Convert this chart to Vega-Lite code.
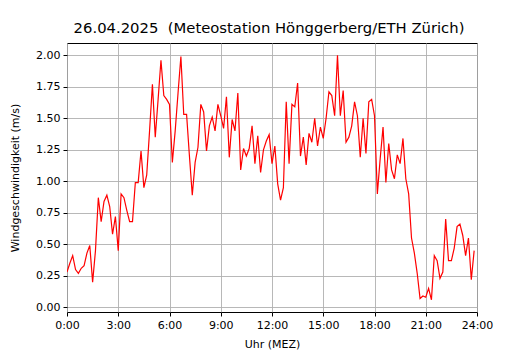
{
  "$schema": "https://vega.github.io/schema/vega-lite/v6.json",
  "autosize": {"type": "none"},
  "width": 410,
  "height": 269,
  "padding": {"left": 67, "top": 43, "right": 53, "bottom": 38},
  "background": "white",
  "title": {
    "text": "26.04.2025\u00a0 (Meteostation Hönggerberg/ETH Zürich)",
    "font": "DejaVu Sans",
    "fontSize": 14.8,
    "fontWeight": "normal",
    "color": "black",
    "anchor": "middle",
    "baseline": "alphabetic",
    "offset": -5,
    "dx": -3
  },
  "data": {
    "format": {"parse": {"t": "utc:'%H:%M'"}},
    "values": [
      {"t": "00:00", "v": 0.28}, {"t": "00:10", "v": 0.35}, {"t": "00:20", "v": 0.41}, {"t": "00:30", "v": 0.30},
      {"t": "00:40", "v": 0.27}, {"t": "00:50", "v": 0.31}, {"t": "01:00", "v": 0.33}, {"t": "01:10", "v": 0.43},
      {"t": "01:20", "v": 0.49}, {"t": "01:30", "v": 0.20}, {"t": "01:40", "v": 0.45}, {"t": "01:50", "v": 0.87},
      {"t": "02:00", "v": 0.68}, {"t": "02:10", "v": 0.84}, {"t": "02:20", "v": 0.89}, {"t": "02:30", "v": 0.80},
      {"t": "02:40", "v": 0.58}, {"t": "02:50", "v": 0.72}, {"t": "03:00", "v": 0.45}, {"t": "03:10", "v": 0.90},
      {"t": "03:20", "v": 0.87}, {"t": "03:30", "v": 0.77}, {"t": "03:40", "v": 0.68}, {"t": "03:50", "v": 0.68},
      {"t": "04:00", "v": 0.99}, {"t": "04:10", "v": 0.99}, {"t": "04:20", "v": 1.24}, {"t": "04:30", "v": 0.95},
      {"t": "04:40", "v": 1.05}, {"t": "04:50", "v": 1.40}, {"t": "05:00", "v": 1.77}, {"t": "05:10", "v": 1.35},
      {"t": "05:20", "v": 1.65}, {"t": "05:30", "v": 1.96}, {"t": "05:40", "v": 1.68}, {"t": "05:50", "v": 1.65},
      {"t": "06:00", "v": 1.61}, {"t": "06:10", "v": 1.15}, {"t": "06:20", "v": 1.40}, {"t": "06:30", "v": 1.70},
      {"t": "06:40", "v": 1.99}, {"t": "06:50", "v": 1.53}, {"t": "07:00", "v": 1.53}, {"t": "07:10", "v": 1.20},
      {"t": "07:20", "v": 0.89}, {"t": "07:30", "v": 1.15}, {"t": "07:40", "v": 1.27}, {"t": "07:50", "v": 1.61},
      {"t": "08:00", "v": 1.55}, {"t": "08:10", "v": 1.24}, {"t": "08:20", "v": 1.44}, {"t": "08:30", "v": 1.51},
      {"t": "08:40", "v": 1.40}, {"t": "08:50", "v": 1.61}, {"t": "09:00", "v": 1.52}, {"t": "09:10", "v": 1.42},
      {"t": "09:20", "v": 1.67}, {"t": "09:30", "v": 1.19}, {"t": "09:40", "v": 1.49}, {"t": "09:50", "v": 1.40},
      {"t": "10:00", "v": 1.70}, {"t": "10:10", "v": 1.09}, {"t": "10:20", "v": 1.26}, {"t": "10:30", "v": 1.20},
      {"t": "10:40", "v": 1.26}, {"t": "10:50", "v": 1.44}, {"t": "11:00", "v": 1.14}, {"t": "11:10", "v": 1.36},
      {"t": "11:20", "v": 1.07}, {"t": "11:30", "v": 1.25}, {"t": "11:40", "v": 1.32}, {"t": "11:50", "v": 1.37},
      {"t": "12:00", "v": 1.14}, {"t": "12:10", "v": 1.28}, {"t": "12:20", "v": 0.98}, {"t": "12:30", "v": 0.85},
      {"t": "12:40", "v": 0.95}, {"t": "12:50", "v": 1.63}, {"t": "13:00", "v": 1.14}, {"t": "13:10", "v": 1.61},
      {"t": "13:20", "v": 1.59}, {"t": "13:30", "v": 1.78}, {"t": "13:40", "v": 1.20}, {"t": "13:50", "v": 1.35},
      {"t": "14:00", "v": 1.13}, {"t": "14:10", "v": 1.38}, {"t": "14:20", "v": 1.31}, {"t": "14:30", "v": 1.50},
      {"t": "14:40", "v": 1.28}, {"t": "14:50", "v": 1.43}, {"t": "15:00", "v": 1.34}, {"t": "15:10", "v": 1.50},
      {"t": "15:20", "v": 1.71}, {"t": "15:30", "v": 1.68}, {"t": "15:40", "v": 1.52}, {"t": "15:50", "v": 2.00},
      {"t": "16:00", "v": 1.52}, {"t": "16:10", "v": 1.72}, {"t": "16:20", "v": 1.31}, {"t": "16:30", "v": 1.35},
      {"t": "16:40", "v": 1.44}, {"t": "16:50", "v": 1.63}, {"t": "17:00", "v": 1.52}, {"t": "17:10", "v": 1.19},
      {"t": "17:20", "v": 1.50}, {"t": "17:30", "v": 1.22}, {"t": "17:40", "v": 1.63}, {"t": "17:50", "v": 1.65},
      {"t": "18:00", "v": 1.52}, {"t": "18:10", "v": 0.90}, {"t": "18:20", "v": 1.18}, {"t": "18:30", "v": 1.43},
      {"t": "18:40", "v": 0.99}, {"t": "18:50", "v": 1.30}, {"t": "19:00", "v": 1.09}, {"t": "19:10", "v": 1.02},
      {"t": "19:20", "v": 1.21}, {"t": "19:30", "v": 1.14}, {"t": "19:40", "v": 1.34}, {"t": "19:50", "v": 1.02},
      {"t": "20:00", "v": 0.90}, {"t": "20:10", "v": 0.55}, {"t": "20:20", "v": 0.43}, {"t": "20:30", "v": 0.27},
      {"t": "20:40", "v": 0.07}, {"t": "20:50", "v": 0.09}, {"t": "21:00", "v": 0.08}, {"t": "21:10", "v": 0.15},
      {"t": "21:20", "v": 0.06}, {"t": "21:30", "v": 0.41}, {"t": "21:40", "v": 0.37}, {"t": "21:50", "v": 0.23},
      {"t": "22:00", "v": 0.28}, {"t": "22:10", "v": 0.70}, {"t": "22:20", "v": 0.37}, {"t": "22:30", "v": 0.37},
      {"t": "22:40", "v": 0.47}, {"t": "22:50", "v": 0.64}, {"t": "23:00", "v": 0.66}, {"t": "23:10", "v": 0.57},
      {"t": "23:20", "v": 0.41}, {"t": "23:30", "v": 0.55}, {"t": "23:40", "v": 0.22}, {"t": "23:50", "v": 0.45}
    ]
  },
  "mark": {"type": "line", "color": "#ff0000", "strokeWidth": 1.2, "clip": true},
  "encoding": {
    "x": {
      "field": "t",
      "type": "temporal",
      "scale": {
        "type": "utc",
        "domain": [
          {"year": 1900, "month": 1, "date": 1, "hours": 0, "utc": true},
          {"year": 1900, "month": 1, "date": 2, "hours": 0, "utc": true}
        ],
        "nice": false
      },
      "axis": {
        "title": "Uhr (MEZ)",
        "values": [
          {"year": 1900, "month": 1, "date": 1, "hours": 0, "utc": true},
          {"year": 1900, "month": 1, "date": 1, "hours": 3, "utc": true},
          {"year": 1900, "month": 1, "date": 1, "hours": 6, "utc": true},
          {"year": 1900, "month": 1, "date": 1, "hours": 9, "utc": true},
          {"year": 1900, "month": 1, "date": 1, "hours": 12, "utc": true},
          {"year": 1900, "month": 1, "date": 1, "hours": 15, "utc": true},
          {"year": 1900, "month": 1, "date": 1, "hours": 18, "utc": true},
          {"year": 1900, "month": 1, "date": 1, "hours": 21, "utc": true},
          {"year": 1900, "month": 1, "date": 2, "hours": 0, "utc": true}
        ],
        "labelExpr": "utcdate(datum.value) == 2 ? '24:00' : utcFormat(datum.value, '%-H:%M')",
        "labelFlush": false,
        "labelOverlap": false,
        "titlePadding": 8
      }
    },
    "y": {
      "field": "v",
      "type": "quantitative",
      "scale": {"domain": [-0.037, 2.097], "nice": false, "zero": false},
      "axis": {
        "title": "Windgeschwindigkeit (m/s)",
        "values": [0, 0.25, 0.5, 0.75, 1, 1.25, 1.5, 1.75, 2],
        "format": ".2f",
        "labelFlush": false,
        "labelOverlap": false,
        "titlePadding": 15
      }
    }
  },
  "config": {
    "view": {"stroke": "black", "strokeWidth": 1},
    "axis": {
      "domain": false,
      "grid": true,
      "gridColor": "#b0b0b0",
      "gridWidth": 0.9,
      "gridOpacity": 1,
      "ticks": true,
      "tickColor": "black",
      "tickSize": 4,
      "tickWidth": 1,
      "labelFont": "DejaVu Sans",
      "labelFontSize": 11,
      "labelColor": "black",
      "labelPadding": 3,
      "titleFont": "DejaVu Sans",
      "titleFontSize": 11,
      "titleFontWeight": "normal",
      "titleColor": "black"
    }
  }
}
